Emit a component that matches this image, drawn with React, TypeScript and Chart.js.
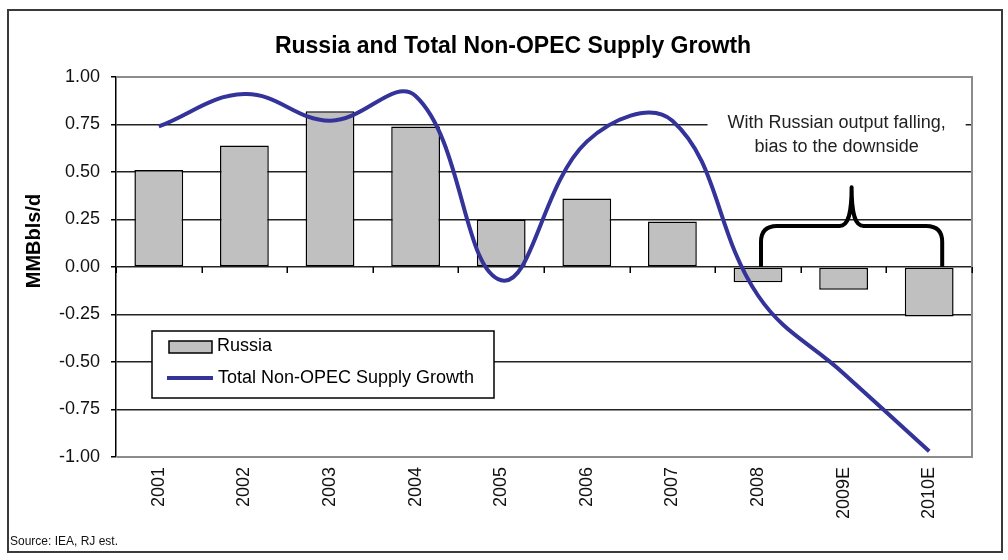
import React, { useEffect, useRef } from "react";
import { Chart, registerables } from "chart.js";

Chart.register(...registerables);

const categories = ["2001", "2002", "2003", "2004", "2005", "2006", "2007", "2008", "2009E", "2010E"];
const russiaValues = [0.51, 0.64, 0.82, 0.74, 0.25, 0.36, 0.24, -0.08, -0.12, -0.26];
const nonOpecValues = [0.74, 0.91, 0.77, 0.9, -0.07, 0.66, 0.77, -0.15, -0.56, -0.97];
const yMin = -1;
const yMax = 1;
const yStep = 0.25;
const titleText = "Russia and Total Non-OPEC Supply Growth";
const yAxisTitle = "MMBbls/d";
const annotationLines = ["With Russian output falling,", "bias to the downside"];
const sourceText = "Source: IEA, RJ est.";
const seriesLabels = ["Russia", "Total Non-OPEC Supply Growth"];

const FONT = '"Liberation Sans", Arial, sans-serif';
const BAR_FILL = "#c0c0c0";
const LINE_COLOR = "#333399";

const decorPlugin = {
  id: "decor",
  beforeDraw(chart: any) {
    const ctx = chart.ctx;
    ctx.save();
    ctx.fillStyle = "#ffffff";
    ctx.fillRect(0, 0, chart.width, chart.height);
    ctx.strokeStyle = "#3a3a3a";
    ctx.lineWidth = 2;
    ctx.strokeRect(8, 10, 994, 542);
    ctx.restore();
  },
  beforeDatasetsDraw(chart: any) {
    const { ctx, chartArea: a, scales } = chart;
    const xs = scales.x;
    const ys = scales.y;
    ctx.save();
    // plot frame (top, right, bottom)
    ctx.strokeStyle = "#8c8c8c";
    ctx.lineWidth = 2;
    ctx.beginPath();
    ctx.moveTo(a.left + 1, a.top);
    ctx.lineTo(a.right, a.top);
    ctx.lineTo(a.right, a.bottom);
    ctx.lineTo(a.left + 1, a.bottom);
    ctx.stroke();

    // annotation text box
    ctx.font = `18px ${FONT}`;
    const cx = xs.getPixelForValue(8) - 7;
    const w = Math.max(...annotationLines.map((t) => ctx.measureText(t).width)) + 40;
    const y1 = ys.getPixelForValue(0.75) - 1;
    ctx.fillStyle = "#ffffff";
    ctx.fillRect(cx - w / 2, y1 - 13, w, 50);
    ctx.fillStyle = "#222222";
    ctx.textAlign = "center";
    ctx.textBaseline = "middle";
    ctx.fillText(annotationLines[0], cx, y1);
    ctx.fillText(annotationLines[1], cx, y1 + 24);
    ctx.restore();
  },
  afterDatasetsDraw(chart: any) {
    const { ctx, scales } = chart;
    const xs = scales.x;
    const ys = scales.y;
    ctx.save();
    // curly brace
    const left = xs.getPixelForValue(7) + 3;
    const right = xs.getPixelForValue(9) + 13;
    const mid = (left + right) / 2;
    const base = ys.getPixelForValue(0);
    const h = ys.getPixelForValue(0.216);
    const tip = ys.getPixelForValue(0.42);
    const r = 16;
    ctx.strokeStyle = "#000000";
    ctx.lineWidth = 4;
    ctx.lineJoin = "round";
    ctx.beginPath();
    ctx.moveTo(left, base);
    ctx.lineTo(left, h + r);
    ctx.quadraticCurveTo(left, h, left + r, h);
    ctx.lineTo(mid - 12, h);
    ctx.bezierCurveTo(mid - 4, h, mid, h - 10, mid, tip);
    ctx.bezierCurveTo(mid, h - 10, mid + 4, h, mid + 12, h);
    ctx.lineTo(right - r, h);
    ctx.quadraticCurveTo(right, h, right, h + r);
    ctx.lineTo(right, base);
    ctx.stroke();

    // category tick marks on the zero line
    const y0 = ys.getPixelForValue(0);
    ctx.lineWidth = 1.5;
    ctx.strokeStyle = "#000000";
    ctx.beginPath();
    for (let i = 0; i <= categories.length; i++) {
      const px = Math.round(xs.getPixelForValue(i - 0.5)) + 0.25;
      ctx.moveTo(px, y0);
      ctx.lineTo(px, y0 + 6);
    }
    ctx.stroke();
    ctx.restore();
  },
  afterDraw(chart: any) {
    const { ctx } = chart;
    const ds = chart.data.datasets;
    ctx.save();
    // title
    ctx.fillStyle = "#000000";
    ctx.font = `bold 23px ${FONT}`;
    ctx.textAlign = "center";
    ctx.textBaseline = "middle";
    ctx.fillText(titleText, 513, 47);

    // y axis title
    ctx.save();
    ctx.translate(34, 241);
    ctx.rotate(-Math.PI / 2);
    ctx.font = `bold 20px ${FONT}`;
    ctx.fillText(yAxisTitle, 0, 0);
    ctx.restore();

    // source
    ctx.font = `12px ${FONT}`;
    ctx.textAlign = "left";
    ctx.fillStyle = "#111111";
    ctx.fillText(sourceText, 10, 542);

    // legend
    const lx = 152;
    const ly = 331;
    const lw = 342;
    const lh = 67;
    ctx.fillStyle = "#ffffff";
    ctx.fillRect(lx, ly, lw, lh);
    ctx.strokeStyle = "#000000";
    ctx.lineWidth = 1.5;
    ctx.strokeRect(lx, ly, lw, lh);

    const barDs = ds.find((d: any) => d.type === "bar");
    const lineDs = ds.find((d: any) => d.type === "line");
    // bar swatch
    ctx.fillStyle = barDs.backgroundColor;
    ctx.fillRect(169, 341, 43, 12);
    ctx.lineWidth = 1.5;
    ctx.strokeStyle = "#000000";
    ctx.strokeRect(169, 341, 43, 12);
    // line swatch
    ctx.strokeStyle = lineDs.borderColor;
    ctx.lineWidth = 4;
    ctx.beginPath();
    ctx.moveTo(167, 378);
    ctx.lineTo(213, 378);
    ctx.stroke();

    ctx.fillStyle = "#000000";
    ctx.font = `18px ${FONT}`;
    ctx.textAlign = "left";
    ctx.textBaseline = "middle";
    ctx.fillText(barDs.label, 217, 346);
    ctx.fillText(lineDs.label, 218, 378);
    ctx.restore();
  },
};

export default function App() {
  const canvasRef = useRef<HTMLCanvasElement | null>(null);

  useEffect(() => {
    const canvas = canvasRef.current;
    if (!canvas) return;
    const chart = new Chart(canvas, {
      type: "bar",
      data: {
        labels: categories,
        datasets: [
          {
            type: "line",
            label: seriesLabels[1],
            data: nonOpecValues,
            borderColor: LINE_COLOR,
            backgroundColor: LINE_COLOR,
            borderWidth: 4,
            pointRadius: 0,
            tension: 0.4,
            fill: false,
            order: 1,
          } as any,
          {
            type: "bar",
            label: seriesLabels[0],
            data: russiaValues,
            backgroundColor: BAR_FILL,
            borderColor: "#000000",
            borderWidth: 1.5,
            borderSkipped: false,
            categoryPercentage: 1,
            barPercentage: 0.57,
            order: 2,
          } as any,
        ],
      },
      options: {
        responsive: false,
        animation: false,
        devicePixelRatio: 1,
        layout: { padding: { left: 0, top: 77, right: 36, bottom: 0 } },
        plugins: {
          legend: { display: false },
          title: { display: false },
          tooltip: { enabled: false },
        },
        scales: {
          x: {
            offset: true,
            grid: { display: false, drawTicks: false },
            border: { display: false },
            ticks: {
              autoSkip: false,
              minRotation: 90,
              maxRotation: 90,
              padding: 10,
              color: "#111111",
              font: { family: FONT, size: 18 },
            },
            afterFit: (scale: any) => {
              scale.height = 103;
            },
          },
          y: {
            min: yMin,
            max: yMax,
            grid: {
              color: (c: any) =>
                c.tick && Math.abs(c.tick.value) > 0.999 ? "rgba(0,0,0,0)" : "#222222",
              lineWidth: 1.5,
              tickColor: "#000000",
              tickLength: 5,
              drawTicks: true,
            },
            border: { display: true, color: "#000000", width: 1.5 },
            ticks: {
              stepSize: yStep,
              padding: 11,
              color: "#111111",
              font: { family: FONT, size: 18 },
              callback: (v: any) => Number(v).toFixed(2),
            },
            afterFit: (scale: any) => {
              scale.width = 116;
            },
          },
        },
      },
      plugins: [decorPlugin],
    });
    return () => chart.destroy();
  }, []);

  return (
    <div style={{ position: "absolute", left: 0, top: 0, width: 1008, height: 560 }}>
      <canvas ref={canvasRef} width={1008} height={560} style={{ width: 1008, height: 560 }} />
    </div>
  );
}
